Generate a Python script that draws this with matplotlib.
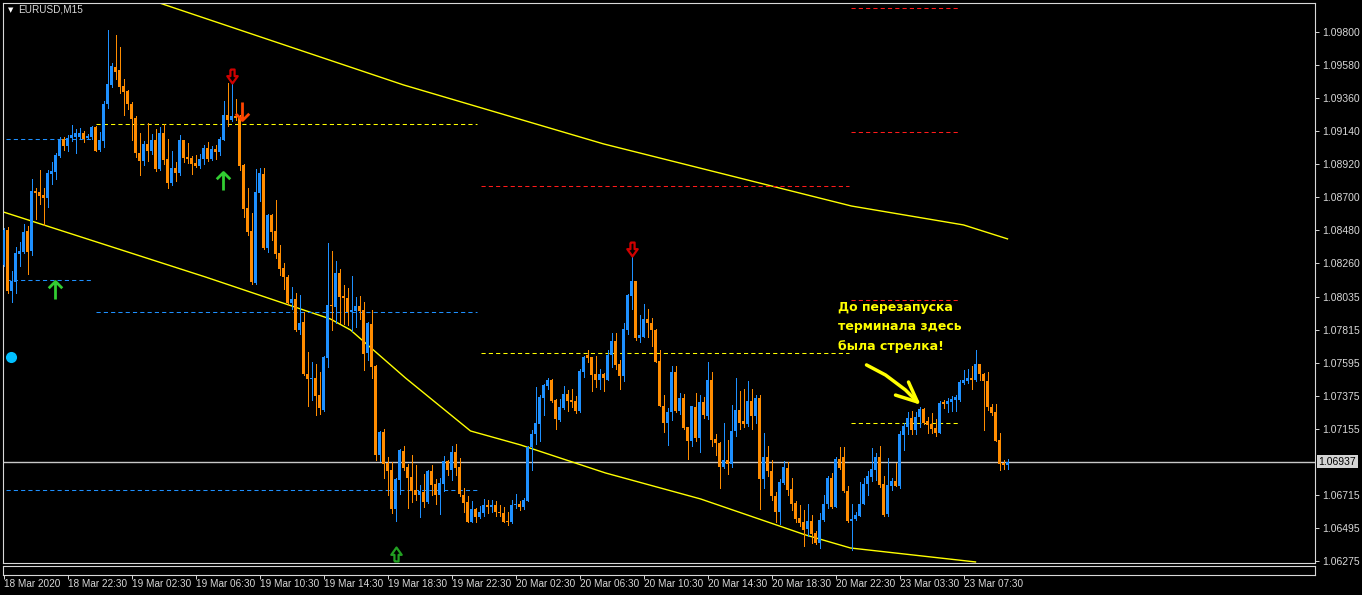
import numpy as np
import matplotlib
matplotlib.use("Agg")
import matplotlib.pyplot as plt
from matplotlib.path import Path
from matplotlib.transforms import blended_transform_factory

# EURUSD M15 candles (bar index 0 .. 251)
o = [1.08246,1.08483,1.08077,1.08133,1.08320,1.08332,1.08476,1.08341,1.08742,1.08733,
     1.08713,1.08692,1.08855,1.08866,1.08974,1.09087,1.09040,1.09096,1.09098,1.09103,
     1.09125,1.09092,1.09103,1.09166,1.09013,1.09074,1.09319,1.09446,1.09567,1.09547,
     1.09441,1.09407,1.09319,1.09227,1.08995,1.08943,1.09053,1.09008,1.09080,1.08889,
     1.09125,1.08954,1.08796,1.08893,1.08862,1.09080,1.08968,1.08961,1.08929,1.08909,
     1.08954,1.09026,1.08952,1.09017,1.09001,1.09080,1.09249,1.09211,1.09243,1.09234,
     1.08916,1.08627,1.08476,1.08129,1.08729,1.08855,1.08359,1.08580,1.08476,1.08325,
     1.08228,1.08167,1.07993,1.08020,1.07813,1.07867,1.07518,1.07484,1.07491,1.07378,
     1.07283,1.07630,1.07982,1.07969,1.08194,1.08043,1.08029,1.07935,1.07942,1.07975,
     1.07946,1.07660,1.07854,1.07574,1.06979,1.07134,1.06927,1.06879,1.06618,1.06814,
     1.07010,1.06904,1.06832,1.06746,1.06717,1.06735,1.06667,1.06875,1.06785,1.06717,
     1.06785,1.06938,1.06879,1.06999,1.06904,1.06713,1.06665,1.06532,1.06618,1.06566,
     1.06593,1.06645,1.06634,1.06649,1.06604,1.06595,1.06541,1.06537,1.06645,1.06654,
     1.06634,1.06674,1.07033,1.07118,1.07186,1.07360,1.07441,1.07479,1.07348,1.07213,
     1.07294,1.07385,1.07348,1.07339,1.07276,1.07531,1.07644,1.07633,1.07518,1.07479,
     1.07518,1.07479,1.07648,1.07739,1.07585,1.07506,1.07817,1.08043,1.08140,1.07761,
     1.07768,1.07885,1.07863,1.07813,1.07610,1.07310,1.07197,1.07270,1.07531,1.07276,
     1.07360,1.07170,1.07073,1.07299,1.07096,1.07333,1.07242,1.07479,1.07085,1.07062,
     1.06900,1.06945,1.06920,1.07141,1.07281,1.07204,1.07186,1.07339,1.07238,1.07362,
     1.06821,1.06965,1.06875,1.06706,1.06600,1.06791,1.06897,1.06751,1.06661,1.06559,
     1.06532,1.06487,1.06539,1.06460,1.06397,1.06550,1.06652,1.06825,1.06634,1.06956,
     1.06965,1.06742,1.06539,1.06555,1.06577,1.06656,1.06785,1.06832,1.06882,1.06965,
     1.06785,1.06589,1.06776,1.06807,1.06776,1.07114,1.07170,1.07224,1.07148,1.07231,
     1.07288,1.07204,1.07186,1.07159,1.07130,1.07333,1.07321,1.07333,1.07348,1.07348,
     1.07461,1.07475,1.07491,1.07479,1.07585,1.07518,1.07472,1.07299,1.07265,1.07078,
     1.06927,1.06915]
h = [1.08494,1.08499,1.08205,1.08365,1.08399,1.08517,1.08505,1.08819,1.08760,1.08877,
     1.08760,1.08877,1.08934,1.08995,1.09101,1.09101,1.09114,1.09180,1.09152,1.09159,
     1.09139,1.09123,1.09175,1.09175,1.09130,1.09337,1.09813,1.09592,1.09779,1.09700,
     1.09486,1.09414,1.09333,1.09243,1.09125,1.09074,1.09193,1.09121,1.09152,1.09166,
     1.09184,1.09087,1.09006,1.08934,1.09114,1.09080,1.09060,1.08972,1.08979,1.08990,
     1.09046,1.09065,1.09042,1.09046,1.09098,1.09340,1.09459,1.09464,1.09355,1.09249,
     1.08922,1.08760,1.08595,1.08884,1.08891,1.08893,1.08589,1.08584,1.08679,1.08381,
     1.08262,1.08178,1.08099,1.08059,1.08047,1.07935,1.07666,1.07603,1.07587,1.07536,
     1.07642,1.08393,1.08341,1.08275,1.08221,1.08115,1.08093,1.08172,1.08034,1.08038,
     1.07998,1.07867,1.07948,1.07581,1.07141,1.07157,1.06967,1.06934,1.06825,1.07021,
     1.07044,1.06920,1.06979,1.06915,1.06780,1.06852,1.06882,1.06911,1.06821,1.06825,
     1.06972,1.06949,1.07044,1.07051,1.06961,1.06762,1.06706,1.06672,1.06627,1.06638,
     1.06690,1.06679,1.06679,1.06672,1.06645,1.06634,1.06600,1.06679,1.06724,1.06672,
     1.06695,1.07040,1.07146,1.07434,1.07382,1.07452,1.07495,1.07486,1.07355,1.07355,
     1.07439,1.07412,1.07418,1.07371,1.07551,1.07642,1.07678,1.07637,1.07642,1.07551,
     1.07524,1.07678,1.07795,1.07795,1.07615,1.07858,1.08054,1.08309,1.08140,1.07914,
     1.07987,1.07953,1.07896,1.07822,1.07678,1.07378,1.07292,1.07574,1.07574,1.07396,
     1.07389,1.07170,1.07310,1.07394,1.07378,1.07366,1.07599,1.07531,1.07118,1.07067,
     1.07197,1.07078,1.07315,1.07493,1.07407,1.07418,1.07472,1.07418,1.07378,1.07378,
     1.07130,1.07044,1.06949,1.06735,1.06819,1.06943,1.06931,1.06825,1.06672,1.06645,
     1.06616,1.06656,1.06584,1.06471,1.06593,1.06717,1.06843,1.06864,1.06965,1.07035,
     1.07033,1.06776,1.06656,1.06600,1.06798,1.06825,1.06875,1.07028,1.06994,1.07044,
     1.06841,1.06961,1.06825,1.06927,1.07141,1.07197,1.07265,1.07276,1.07265,1.07299,
     1.07292,1.07236,1.07261,1.07220,1.07339,1.07344,1.07360,1.07371,1.07378,1.07479,
     1.07547,1.07554,1.07576,1.07678,1.07585,1.07524,1.07531,1.07321,1.07321,1.07125,
     1.06949,1.06954]
l = [1.08241,1.08059,1.07998,1.08059,1.08239,1.08325,1.08185,1.08314,1.08555,1.08652,
     1.08512,1.08636,1.08787,1.08821,1.08968,1.09013,1.09008,1.09076,1.08995,1.09085,
     1.09067,1.09085,1.09085,1.09006,1.09008,1.09031,1.09295,1.09434,1.09486,1.09391,
     1.09249,1.09288,1.09080,1.08968,1.08848,1.08916,1.08940,1.08986,1.08873,1.08882,
     1.08922,1.08762,1.08783,1.08805,1.08848,1.08934,1.08927,1.08855,1.08900,1.08895,
     1.08922,1.08938,1.08945,1.08956,1.08979,1.09080,1.09170,1.09204,1.09216,1.08882,
     1.08568,1.08444,1.08122,1.08122,1.08674,1.08352,1.08336,1.08411,1.08291,1.08183,
     1.08084,1.07987,1.07953,1.07806,1.07784,1.07513,1.07310,1.07348,1.07247,1.07254,
     1.07276,1.07565,1.07817,1.07863,1.07858,1.07851,1.07849,1.07806,1.07833,1.07885,
     1.07547,1.07615,1.07495,1.06949,1.06938,1.06825,1.06713,1.06593,1.06539,1.06724,
     1.06879,1.06627,1.06667,1.06679,1.06566,1.06634,1.06663,1.06713,1.06652,1.06586,
     1.06740,1.06848,1.06814,1.06848,1.06708,1.06600,1.06532,1.06532,1.06532,1.06561,
     1.06577,1.06593,1.06600,1.06573,1.06577,1.06532,1.06514,1.06528,1.06627,1.06613,
     1.06622,1.06674,1.06879,1.07051,1.07073,1.07249,1.07423,1.07333,1.07155,1.07204,
     1.07288,1.07276,1.07299,1.07258,1.07265,1.07502,1.07603,1.07407,1.07434,1.07418,
     1.07407,1.07479,1.07569,1.07554,1.07418,1.07475,1.07784,1.07953,1.07745,1.07734,
     1.07768,1.07768,1.07709,1.07599,1.07306,1.07134,1.07046,1.07213,1.07265,1.07254,
     1.07152,1.06954,1.07040,1.07073,1.07001,1.07227,1.07220,1.07040,1.06979,1.06764,
     1.06893,1.06852,1.06900,1.07107,1.07152,1.07170,1.07175,1.07152,1.07193,1.06618,
     1.06758,1.06841,1.06683,1.06532,1.06521,1.06785,1.06713,1.06611,1.06532,1.06510,
     1.06374,1.06442,1.06397,1.06390,1.06363,1.06543,1.06627,1.06627,1.06634,1.06886,
     1.06735,1.06532,1.06347,1.06550,1.06577,1.06652,1.06713,1.06810,1.06814,1.06769,
     1.06577,1.06573,1.06746,1.06776,1.06764,1.07012,1.07118,1.07118,1.07118,1.07170,
     1.07186,1.07130,1.07130,1.07107,1.07130,1.07292,1.07265,1.07272,1.07276,1.07339,
     1.07452,1.07463,1.07418,1.07475,1.07479,1.07148,1.07283,1.07249,1.07073,1.06882,
     1.06886,1.06888]
c = [1.08483,1.08077,1.08140,1.08325,1.08341,1.08467,1.08336,1.08742,1.08726,1.08708,
     1.08692,1.08859,1.08873,1.08979,1.09087,1.09040,1.09096,1.09110,1.09125,1.09125,
     1.09087,1.09107,1.09164,1.09008,1.09080,1.09319,1.09452,1.09574,1.09536,1.09430,
     1.09403,1.09319,1.09222,1.08995,1.08943,1.09053,1.09008,1.09080,1.08889,1.09125,
     1.08950,1.08796,1.08893,1.08862,1.09080,1.08963,1.08954,1.08922,1.08907,1.08954,
     1.09026,1.08954,1.09019,1.09001,1.09087,1.09249,1.09216,1.09243,1.09227,1.08904,
     1.08623,1.08467,1.08133,1.08733,1.08859,1.08359,1.08580,1.08467,1.08320,1.08223,
     1.08165,1.07993,1.08020,1.07813,1.07863,1.07518,1.07484,1.07491,1.07373,1.07292,
     1.07637,1.07982,1.07975,1.08194,1.08036,1.08029,1.07935,1.07946,1.07975,1.07942,
     1.07655,1.07858,1.07569,1.06979,1.07134,1.06920,1.06875,1.06618,1.06819,1.07012,
     1.06897,1.06825,1.06740,1.06717,1.06740,1.06667,1.06875,1.06780,1.06717,1.06791,
     1.06938,1.06879,1.06999,1.06897,1.06724,1.06661,1.06532,1.06618,1.06566,1.06600,
     1.06645,1.06634,1.06649,1.06600,1.06591,1.06537,1.06537,1.06645,1.06656,1.06634,
     1.06679,1.07033,1.07118,1.07191,1.07366,1.07445,1.07479,1.07339,1.07220,1.07299,
     1.07385,1.07339,1.07335,1.07276,1.07540,1.07637,1.07626,1.07513,1.07479,1.07518,
     1.07491,1.07648,1.07739,1.07581,1.07506,1.07822,1.08047,1.08140,1.07761,1.07779,
     1.07885,1.07858,1.07813,1.07603,1.07306,1.07197,1.07270,1.07531,1.07276,1.07362,
     1.07159,1.07073,1.07306,1.07091,1.07333,1.07249,1.07479,1.07078,1.07058,1.06900,
     1.06949,1.06920,1.07141,1.07281,1.07197,1.07186,1.07339,1.07238,1.07362,1.06821,
     1.06965,1.06875,1.06706,1.06600,1.06798,1.06904,1.06746,1.06656,1.06555,1.06528,
     1.06480,1.06539,1.06453,1.06397,1.06550,1.06652,1.06825,1.06634,1.06956,1.06897,
     1.06740,1.06543,1.06555,1.06584,1.06656,1.06785,1.06841,1.06886,1.06965,1.06780,
     1.06584,1.06780,1.06807,1.06776,1.07118,1.07175,1.07224,1.07148,1.07236,1.07288,
     1.07197,1.07182,1.07152,1.07125,1.07326,1.07321,1.07339,1.07355,1.07366,1.07468,
     1.07479,1.07491,1.07479,1.07585,1.07518,1.07472,1.07299,1.07258,1.07073,1.06920,
     1.06915,1.06937]

# channel lines (bar, price knots)
upper_bar = [0, 39, 100, 150, 200, 212, 240, 251]
upper_px = [1.10234, 1.09993, 1.09447, 1.09054, 1.08720, 1.08640, 1.08514, 1.08421]
lower_bar = [0, 50.5, 81.75, 86.75, 100.5, 116.75, 129.25, 150.5, 174.25, 200.5, 211.75, 243]
lower_px = [1.08600, 1.08167, 1.07887, 1.07814, 1.07494, 1.07141, 1.07048, 1.06861,
            1.06688, 1.06448, 1.06361, 1.06268]

# level lines: (start bar, end bar, price, colour)
levels = [(0.5, 22.5, 1.09087, "#1E90FF"), (23, 118.25, 1.09187, "#FFFF00"),
          (0.5, 22.25, 1.08144, "#1E90FF"), (23, 118.25, 1.07931, "#1E90FF"),
          (0.5, 118.25, 1.06748, "#1E90FF"), (119.25, 211.25, 1.08771, "#FF1A1A"),
          (119.25, 211.25, 1.07658, "#FFFF00"), (211.75, 238.5, 1.09960, "#FF1A1A"),
          (211.75, 238.5, 1.09134, "#FF1A1A"), (211.75, 238.5, 1.08017, "#FF1A1A"),
          (211.75, 238.5, 1.07191, "#FFFF00")]

# signal arrows
dn_hollow_bar, dn_hollow_px = [57, 157], [1.09507, 1.08354]
dn_bar, dn_px = [59.5], [1.09274]
up_bar, up_px = [54.75, 12.75], [1.08807, 1.08081]
up_hollow_bar, up_hollow_px = [98], [1.06321]
dot_bar, dot_px = [1.75], [1.07634]

last_price = 1.06937
yticks = [1.09800, 1.09580, 1.09360, 1.09140, 1.08920, 1.08700, 1.08480, 1.08260,
          1.08035, 1.07815, 1.07595, 1.07375, 1.07155, 1.06715, 1.06495, 1.06275]
xtick_bars = list(range(0, 241, 16))
xtick_labels = ["18 Mar 2020", "18 Mar 22:30", "19 Mar 02:30", "19 Mar 06:30", "19 Mar 10:30",
                "19 Mar 14:30", "19 Mar 18:30", "19 Mar 22:30", "20 Mar 02:30", "20 Mar 06:30",
                "20 Mar 10:30", "20 Mar 14:30", "20 Mar 18:30", "20 Mar 22:30", "23 Mar 03:30",
                "23 Mar 07:30"]
note_lines = ["До перезапуска", "терминала здесь", "была стрелка!"]

plt.rcParams["font.family"] = ["Liberation Sans", "DejaVu Sans"]
fg = "#D8D8D8"
W, H = 1362, 595
fig = plt.figure(figsize=(W / 100, H / 100), dpi=100, facecolor="black")
ax = fig.add_axes([3 / W, 32 / H, 1312 / W, 560 / H], facecolor="black")
ax2 = fig.add_axes([3 / W, 20 / H, 1312 / W, 9 / H], facecolor="black", sharex=ax)

o, h, l, c = map(np.array, (o, h, l, c))
x = np.arange(len(o))
up = c >= o
col = np.where(up, "#1E90FF", "#FF8C00")
body_lo = np.minimum(o, c)
body_h = np.maximum(np.abs(c - o), 0.00003)
ax.vlines(x, l, h, colors=col, lw=0.72, antialiased=False, zorder=3)
ax.bar(x, body_h, bottom=body_lo, width=0.8, color=col, lw=0, antialiased=False, zorder=4)

ax.plot(upper_bar, upper_px, color="#FFFF00", lw=1, zorder=2)
ax.plot(lower_bar, lower_px, color="#FFFF00", lw=1, zorder=2)
for b0, b1, p, cl in levels:
    ax.plot([b0, b1], [p, p], color=cl, lw=0.75, ls=(0, (4, 3)), zorder=2)

ax.axhline(last_price, color="#C8C8C8", lw=1, zorder=1)

# arrow shapes
line_up = Path([(0, -1), (0, 1), (-0.75, 0.25), (0, 1), (0.75, 0.25)],
               [Path.MOVETO, Path.LINETO, Path.MOVETO, Path.LINETO, Path.LINETO])
line_dn = Path([(0, 1), (0, -1), (-0.75, -0.25), (0, -1), (0.75, -0.25)],
               [Path.MOVETO, Path.LINETO, Path.MOVETO, Path.LINETO, Path.LINETO])
hollow_dn = Path([(-0.3, 1), (0.3, 1), (0.3, 0.05), (0.75, 0.05), (0, -1), (-0.75, 0.05),
                  (-0.3, 0.05), (-0.3, 1)])
hollow_up = Path([(x_, -y_) for x_, y_ in hollow_dn.vertices])

ax.plot(dn_hollow_bar, dn_hollow_px, ls="none", marker=hollow_dn, ms=10, mfc="none",
        mec="#D00000", mew=1.6, zorder=5)
ax.plot(dn_bar, dn_px, ls="none", marker=line_dn, ms=13, mfc="none", mec="#FF4500",
        mew=2, zorder=5)
ax.plot(up_bar, up_px, ls="none", marker=line_up, ms=13, mfc="none", mec="#32CD32",
        mew=2, zorder=5)
ax.plot(up_hollow_bar, up_hollow_px, ls="none", marker=hollow_up, ms=10, mfc="none",
        mec="#22A022", mew=1.6, zorder=5)
ax.plot(dot_bar, dot_px, "o", color="#00BFFF", ms=8, mew=0, zorder=5)

# note and hand-drawn arrow
for k, t in enumerate(note_lines):
    ax.text(208.5, 1.07967 - k * 0.00130, t, color="#FFFF00", fontsize=9, fontweight="bold",
            family="DejaVu Sans", ha="left", va="center", zorder=6)
ax.plot([215.75, 220.5, 225.5, 228.5], [1.07581, 1.07514, 1.07414, 1.07334],
        color="#FFFF00", lw=2.5, solid_capstyle="round", zorder=6)
ax.plot([226.25, 228.5, 223], [1.07467, 1.07334, 1.07380],
        color="#FFFF00", lw=2.5, solid_capstyle="round", solid_joinstyle="round", zorder=6)

ax.set_xlim(-0.125, 327.875)
ax.set_ylim(1.06261, 1.09993)

for a in (ax, ax2):
    for s in a.spines.values():
        s.set_color(fg)
        s.set_linewidth(0.8)

ax.yaxis.tick_right()
ax.set_yticks(yticks)
ax.set_yticklabels([f"{v:.5f}" for v in yticks])
ax.tick_params(axis="y", colors=fg, labelsize=7.5, length=3, width=0.7, pad=2)
ax.tick_params(axis="x", bottom=False, labelbottom=False)

ax2.set_yticks([])
ax2.set_xticks(xtick_bars)
ax2.set_xticklabels(xtick_labels)
ax2.tick_params(axis="x", colors=fg, labelsize=7.2, length=3, width=0.7, pad=0)
for lbl in ax2.get_xticklabels():
    lbl.set_ha("left")

tr = blended_transform_factory(ax.transAxes, ax.transData)
ax.text(1.0025, last_price, f"{last_price:.5f}", transform=tr, color="black", fontsize=7.5,
        ha="left", va="center", bbox=dict(fc="#D4D4D4", ec="none", pad=1.2), clip_on=False)

fig.text(8 / W, 1 - 10 / H, "▼", color="white", fontsize=5, family="DejaVu Sans",
         ha="left", va="center")
fig.text(18 / W, 1 - 10 / H, "EURUSD,M15", color=fg, fontsize=7.2, ha="left", va="center")

fig.savefig("out.png", dpi=100, facecolor="black")
